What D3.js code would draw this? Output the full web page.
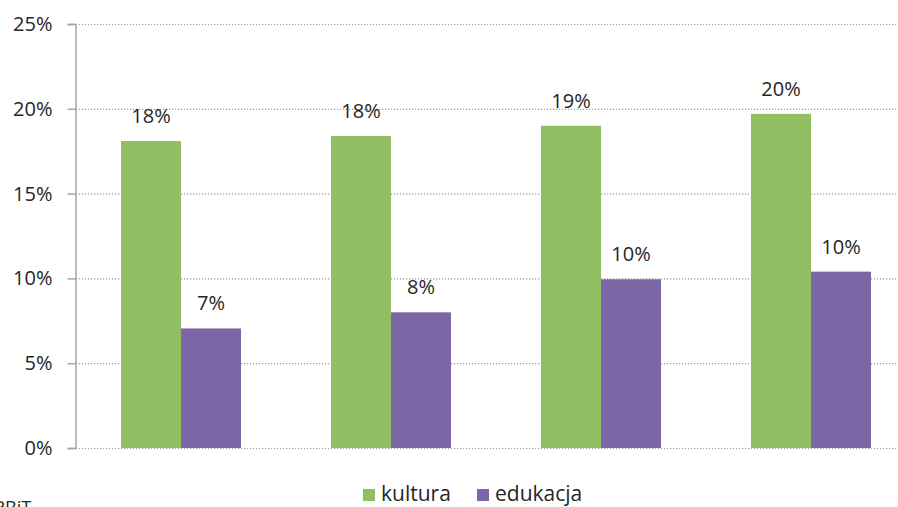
<!DOCTYPE html>
<html>
<head>
<meta charset="utf-8">
<script src="https://cdn.jsdelivr.net/npm/d3@7"></script>
<style>
  body { margin: 0; background: #fff; overflow: hidden; }
  svg { display: block; }
</style>
</head>
<body>
<div id="viz"></div>
<script>
// data
const groups = ["g1", "g2", "g3", "g4"];
const seriesNames = ["kultura", "edukacja"];
const kultura = [0.181, 0.184, 0.190, 0.197];
const edukacja = [0.0705, 0.080, 0.0995, 0.104];
const labelsKultura = ["18%", "18%", "19%", "20%"];
const labelsEdukacja = ["7%", "8%", "10%", "10%"];
const yTicks = [0, 0.05, 0.10, 0.15, 0.20, 0.25];

const width = 898;
const height = 507;
const margin = { top: 24, right: -18, bottom: 59, left: 76 };

const colors = { kultura: "#91bd63", edukacja: "#7d66a6" };
const textFill = "#262626";
const font = "'Open Sans', sans-serif";

const svg = d3.select("#viz")
  .append("svg")
  .attr("width", width)
  .attr("height", height)
  .style("font-family", font);

const x = d3.scaleBand()
  .domain(groups)
  .range([margin.left, width - margin.right]);

const xInner = d3.scaleBand()
  .domain(seriesNames)
  .range([0, x.bandwidth()])
  .paddingOuter(0.75);

const y = d3.scaleLinear()
  .domain([0, 0.25])
  .range([height - margin.bottom, margin.top]);

// dotted gridlines
svg.append("g")
  .selectAll("line")
  .data(yTicks)
  .join("line")
  .attr("x1", margin.left)
  .attr("x2", width)
  .attr("y1", d => y(d) + 0.5)
  .attr("y2", d => y(d) + 0.5)
  .attr("stroke", "#9a9a9a")
  .attr("stroke-width", 1.2)
  .attr("stroke-dasharray", "1.2,1.8");

// y axis
const yAxis = d3.axisLeft(y)
  .tickValues(yTicks)
  .tickFormat(d3.format(".0%"))
  .tickSize(8)
  .tickPadding(15);

const yAxisG = svg.append("g")
  .attr("transform", `translate(${margin.left - 0.5},0)`)
  .call(yAxis);

yAxisG.select(".domain").attr("stroke", "#a6a6a6").attr("stroke-width", 1.5);
yAxisG.selectAll(".tick line").attr("stroke", "#a6a6a6").attr("stroke-width", 1.5);
yAxisG.selectAll(".tick text")
  .attr("fill", textFill)
  .style("font-size", "20px")
  .style("font-family", font);

// bars
const rows = groups.map((g, i) => ({
  group: g,
  values: [
    { key: "kultura", value: kultura[i], label: labelsKultura[i] },
    { key: "edukacja", value: edukacja[i], label: labelsEdukacja[i] }
  ]
}));

const groupG = svg.append("g")
  .selectAll("g")
  .data(rows)
  .join("g")
  .attr("transform", d => `translate(${x(d.group)},0)`);

groupG.selectAll("rect")
  .data(d => d.values)
  .join("rect")
  .attr("x", d => xInner(d.key))
  .attr("width", xInner.bandwidth())
  .attr("y", d => y(d.value))
  .attr("height", d => y(0) - y(d.value))
  .attr("fill", d => colors[d.key]);

groupG.selectAll("text")
  .data(d => d.values)
  .join("text")
  .attr("x", d => xInner(d.key) + xInner.bandwidth() / 2)
  .attr("y", d => y(d.value) - 18)
  .attr("text-anchor", "middle")
  .attr("fill", textFill)
  .style("font-size", "20px")
  .text(d => d.label);

// legend
const legend = svg.append("g").attr("transform", "translate(363,489)");
const legendItems = [
  { key: "kultura", dx: 0 },
  { key: "edukacja", dx: 114 }
];
const li = legend.selectAll("g")
  .data(legendItems)
  .join("g")
  .attr("transform", d => `translate(${d.dx},0)`);
li.append("rect")
  .attr("width", 12)
  .attr("height", 12)
  .attr("fill", d => colors[d.key]);
li.append("text")
  .attr("x", 18)
  .attr("y", 12)
  .attr("fill", textFill)
  .style("font-size", "21px")
  .text(d => d.key);

// source note at bottom left, cut off by the frame as in the original
svg.append("text")
  .attr("x", -6)
  .attr("y", 514)
  .attr("fill", textFill)
  .style("font-size", "18px")
  .text("RBiT");
</script>
</body>
</html>
